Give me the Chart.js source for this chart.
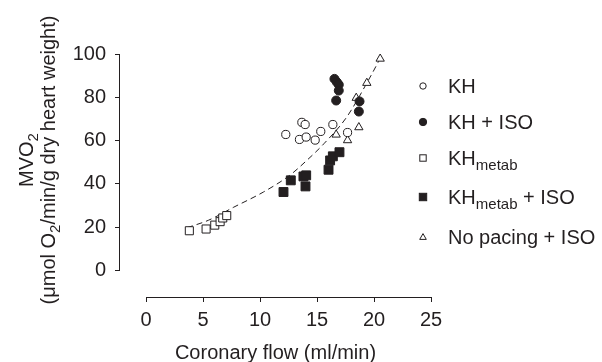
<!DOCTYPE html>
<html>
<head>
<meta charset="utf-8">
<script src="https://cdn.jsdelivr.net/npm/chart.js@4/dist/chart.umd.min.js"></script>
<style>
  html, body { margin: 0; padding: 0; background: #fff; }
  #wrap { position: relative; width: 602px; height: 362px; font-family: "Liberation Sans", Arial, sans-serif; color: #231f20; }
  #chart { position: absolute; left: 0; top: 0; }
  .sub { font-size: 15px; position: relative; top: 5px; }
  #ytitle {
    position: absolute; width: 340px; height: 42px; left: -133px; top: 139px;
    font-size: 20px; line-height: 21px; text-align: center; white-space: nowrap;
    transform: rotate(-90deg);
  }
  .leg { position: absolute; left: 448px; font-size: 20px; line-height: 20px; white-space: nowrap; }
  .mark { position: absolute; left: 416px; }
</style>
</head>
<body>
<div id="wrap">
  <canvas id="chart" width="602" height="362"></canvas>
  <div id="ytitle">MVO<span class="sub">2</span><br>(μmol O<span class="sub">2</span>/min/g dry heart weight)</div>
  <div id="legend"></div>
</div>
<script>
// values read in ml/min (x) and µmol O2/min/g dry heart weight (y)
const khX = [12.26, 13.67, 13.96, 13.46, 14.05, 14.84, 15.33, 16.39, 17.68];
const khY = [62.8, 68.4, 67.4, 60.5, 61.6, 60.2, 64.2, 67.4, 63.7];

const khIsoX = [16.53, 16.74, 16.91, 16.91, 16.68, 18.73, 18.67];
const khIsoY = [88.5, 87.0, 85.8, 83.1, 78.5, 78.1, 73.4];

const metabX = [3.80, 5.27, 6.03, 6.50, 6.73, 7.08];
const metabY = [18.3, 19.1, 20.9, 22.5, 24.2, 25.3];

const metabIsoX = [12.06, 12.70, 13.81, 14.05, 13.99, 16.01, 16.15, 16.39, 16.97];
const metabIsoY = [36.2, 41.6, 43.4, 43.9, 38.8, 46.5, 50.8, 52.7, 54.6];

const noPaceX = [20.54, 19.37, 18.44, 16.68, 17.68, 18.67];
const noPaceY = [97.8, 86.6, 79.7, 62.7, 60.1, 66.1];

// dashed fit line
const fitX = [3.6, 5.5, 7.7, 10.3, 12.6, 14.1, 15.6, 17.6, 19.5, 20.6];
const fitY = [19.7, 23.2, 29.2, 36.2, 43.9, 50.8, 58.5, 70.8, 87.8, 98.5];

const xTicks = [0, 5, 10, 15, 20, 25];
const yTicks = [0, 20, 40, 60, 80, 100];

const ink = "#231f20";

function pts(xs, ys) {
  return xs.map((x, i) => ({ x: x, y: ys[i] }));
}

// Legend entries; labels hold markup for the subscripts
const legendItems = [
  { html: "KH", shape: "circle", fill: false, top: 76 },
  { html: "KH + ISO", shape: "circle", fill: true, top: 111.5 },
  { html: "KH<span class=\"sub\">metab</span>", shape: "square", fill: false, top: 147.5 },
  { html: "KH<span class=\"sub\">metab</span> + ISO", shape: "square", fill: true, top: 186.5 },
  { html: "No pacing + ISO", shape: "triangle", fill: false, top: 226.5 }
];

function markerSvg(item) {
  let fill = item.fill ? ink : "#fff";
  let body;
  if (item.shape === "circle") {
    body = `<circle cx="7" cy="7" r="${item.fill ? 3.7 : 3.2}" fill="${fill}" stroke="${ink}" stroke-width="1"/>`;
  } else if (item.shape === "square") {
    let s = item.fill ? 7.4 : 6.4;
    body = `<rect x="${7 - s / 2}" y="${7 - s / 2}" width="${s}" height="${s}" fill="${fill}" stroke="${ink}" stroke-width="1"/>`;
  } else {
    body = `<polygon points="7,3.6 10.3,9.4 3.7,9.4" fill="${fill}" stroke="${ink}" stroke-width="1"/>`;
  }
  return `<svg width="14" height="14" viewBox="0 0 14 14">${body}</svg>`;
}

const legend = document.querySelector("#legend");
legendItems.forEach(item => {
  let label = document.createElement("div");
  label.className = "leg";
  label.style.top = item.top + "px";
  label.innerHTML = item.html;
  let mark = document.createElement("div");
  mark.className = "mark";
  mark.style.top = (item.top + 3) + "px";
  mark.innerHTML = markerSvg(item);
  legend.append(mark, label);
});

// axis lines only run between the first and last tick
const axisLines = {
  id: "axisLines",
  afterDraw(chart) {
    const { ctx, chartArea, scales } = chart;
    ctx.save();
    ctx.strokeStyle = ink;
    ctx.lineWidth = 1;
    ctx.beginPath();
    let yb = Math.round(chartArea.bottom) + 0.5;
    ctx.moveTo(Math.round(scales.x.getPixelForValue(xTicks[0])) + 0.5, yb);
    ctx.lineTo(Math.round(scales.x.getPixelForValue(xTicks[xTicks.length - 1])) + 0.5, yb);
    let xl = Math.round(chartArea.left) - 0.5;
    ctx.moveTo(xl, Math.round(scales.y.getPixelForValue(yTicks[0])) + 0.5);
    ctx.lineTo(xl, Math.round(scales.y.getPixelForValue(yTicks[yTicks.length - 1])) + 0.5);
    ctx.stroke();
    ctx.restore();
  }
};

Chart.defaults.font.family = "'Liberation Sans', Arial, sans-serif";
Chart.defaults.font.size = 20;
Chart.defaults.color = ink;

new Chart(document.getElementById("chart"), {
  type: "scatter",
  data: {
    datasets: [
      {
        label: "KH", data: pts(khX, khY), pointStyle: "circle", pointRadius: 4.1,
        backgroundColor: "#fff", borderColor: ink, borderWidth: 1
      },
      {
        label: "KH + ISO", data: pts(khIsoX, khIsoY), pointStyle: "circle", pointRadius: 4.5,
        backgroundColor: ink, borderColor: ink, borderWidth: 1
      },
      {
        label: "KHmetab", data: pts(metabX, metabY), pointStyle: "rect", pointRadius: 5.7,
        backgroundColor: "#fff", borderColor: ink, borderWidth: 1
      },
      {
        label: "KHmetab + ISO", data: pts(metabIsoX, metabIsoY), pointStyle: "rect", pointRadius: 6.3,
        backgroundColor: ink, borderColor: ink, borderWidth: 1
      },
      {
        label: "No pacing + ISO", data: pts(noPaceX, noPaceY), pointStyle: "triangle", pointRadius: 4.8,
        backgroundColor: "#fff", borderColor: ink, borderWidth: 1
      },
      {
        type: "line", label: "fit", data: pts(fitX, fitY), order: 1,
        borderColor: ink, borderWidth: 1, borderDash: [6, 4], pointRadius: 0,
        fill: false, tension: 0.4, cubicInterpolationMode: "monotone"
      }
    ]
  },
  options: {
    responsive: false,
    animation: false,
    layout: { padding: { left: 0, top: 54, right: 171, bottom: 0 } },
    plugins: { legend: { display: false }, tooltip: { enabled: false } },
    scales: {
      x: {
        type: "linear",
        min: -2.283, max: 25,
        afterBuildTicks: scale => { scale.ticks = xTicks.map(v => ({ value: v })); },
        afterFit: scale => { scale.height = 65; },
        border: { display: false },
        grid: { drawOnChartArea: false, drawTicks: true, tickLength: 5, color: ink },
        ticks: { padding: 6, maxRotation: 0, autoSkip: false },
        title: {
          display: true, text: "Coronary flow (ml/min)",
          font: { size: 20, lineHeight: 0.9 }, padding: { top: 0, bottom: 0 }
        }
      },
      y: {
        type: "linear",
        min: -12.33, max: 100,
        afterBuildTicks: scale => { scale.ticks = yTicks.map(v => ({ value: v })); },
        afterFit: scale => { scale.width = 120; },
        border: { display: false },
        grid: { drawOnChartArea: false, drawTicks: true, tickLength: 5, color: ink },
        ticks: { padding: 9, autoSkip: false }
      }
    }
  },
  plugins: [axisLines]
});
</script>
</body>
</html>
